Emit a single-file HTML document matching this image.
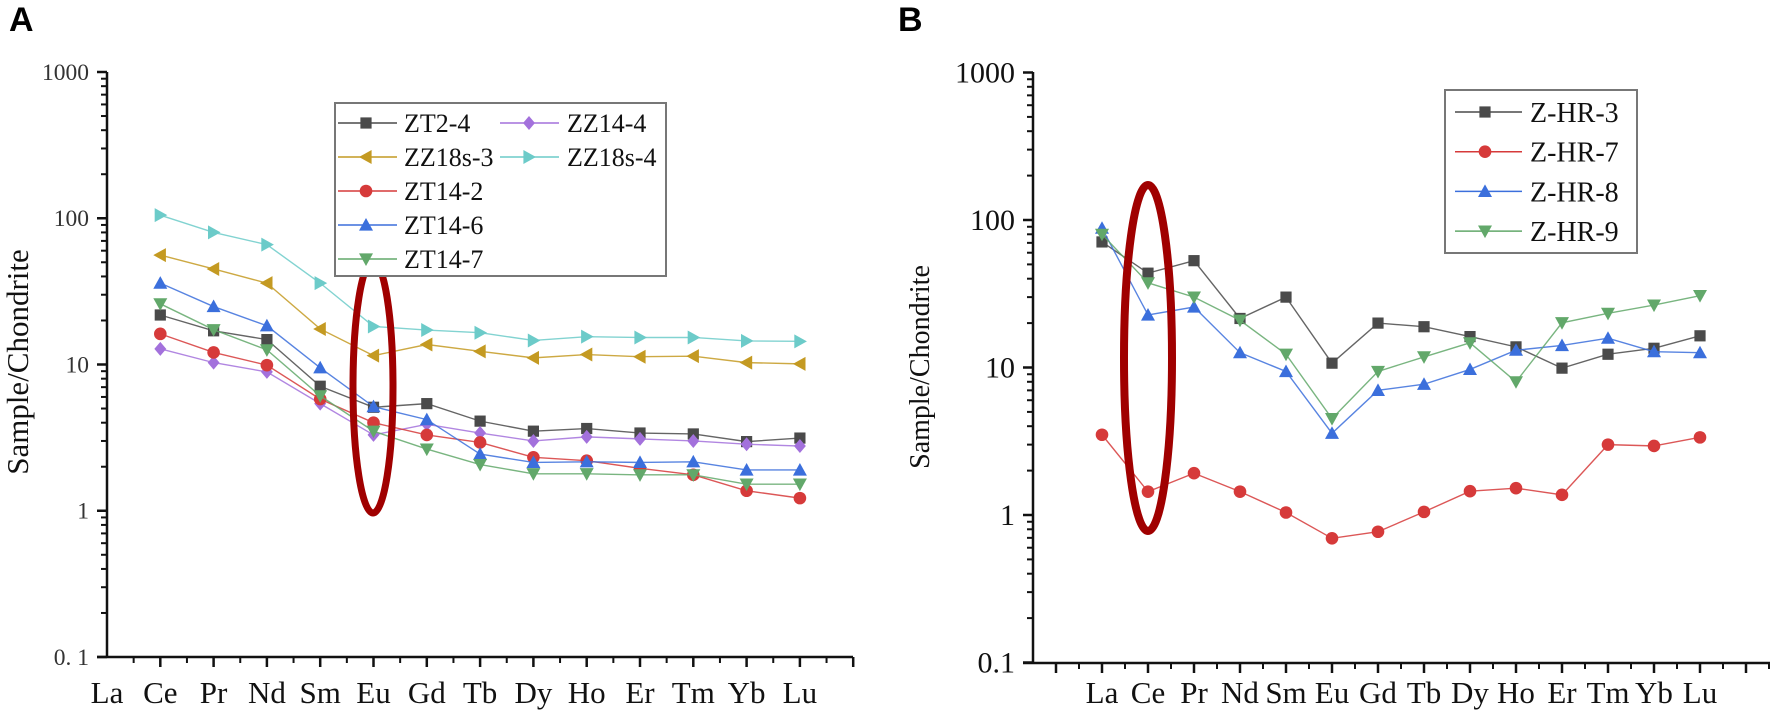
<!DOCTYPE html>
<html><head><meta charset="utf-8"><style>
html,body{margin:0;padding:0;background:#fff;}
svg{display:block;}
text{font-family:"Liberation Serif",serif;}
</style></head><body>
<svg id="s" width="1772" height="716" xmlns="http://www.w3.org/2000/svg"></svg>
<script>
const S=document.getElementById('s');let h='';
const el=['La','Ce','Pr','Nd','Sm','Eu','Gd','Tb','Dy','Ho','Er','Tm','Yb','Lu'];
function marker(t,x,y,c,r){
 if(t=='sq')return `<rect x="${x-r*0.8}" y="${y-r*0.8}" width="${r*1.6}" height="${r*1.6}" fill="${c}"/>`;
 if(t=='ci')return `<circle cx="${x}" cy="${y}" r="${r*0.9}" fill="${c}"/>`;
 if(t=='up')return `<polygon points="${x},${y-r} ${x-r},${y+r*0.8} ${x+r},${y+r*0.8}" fill="${c}"/>`;
 if(t=='dn')return `<polygon points="${x},${y+r} ${x-r},${y-r*0.8} ${x+r},${y-r*0.8}" fill="${c}"/>`;
 if(t=='lt')return `<polygon points="${x-r},${y} ${x+r*0.8},${y-r} ${x+r*0.8},${y+r}" fill="${c}"/>`;
 if(t=='rt')return `<polygon points="${x+r},${y} ${x-r*0.8},${y-r} ${x-r*0.8},${y+r}" fill="${c}"/>`;
 if(t=='di')return `<polygon points="${x},${y-r} ${x+r*0.85},${y} ${x},${y+r} ${x-r*0.85},${y}" fill="${c}"/>`;
}
function series(P,list,x0){
 const yv=v=>P.y1-Math.log10(v)*P.dec;
 for(const q of list){const pts=q.v.map((v,i)=>[x0+i*P.dx,yv(v)]);
  h+=`<polyline points="${pts.map(p=>p.join(',')).join(' ')}" fill="none" stroke="${q.c}" stroke-width="1.4" opacity="0.85"/>`;
  for(const p of pts)h+=marker(q.m,p[0],p[1],q.c,P.mr);}
}
function axes(P){
 const yv=v=>P.y1-(Math.log10(v))*P.dec;
 h+=`<line x1="${P.ax}" y1="${P.top}" x2="${P.ax}" y2="${P.y0}" stroke="#111" stroke-width="2.5"/>`;
 h+=`<line x1="${P.ax-10}" y1="${P.y0}" x2="${P.xend}" y2="${P.y0}" stroke="#111" stroke-width="2.5"/>`;
 for(let d=-1;d<=3;d++){
  const y=yv(Math.pow(10,d));
  h+=`<line x1="${P.ax-10}" y1="${y}" x2="${P.ax}" y2="${y}" stroke="#111" stroke-width="2.5"/>`;
  const lab=d==-1?P.l01:String(Math.pow(10,d));
  h+=`<text x="${P.ax-18}" y="${y+P.tf*0.33}" font-size="${P.tf}" text-anchor="end" fill="${P.tc}">${lab}</text>`;
  if(d<3)for(let m=2;m<=9;m++){const ym=yv(m*Math.pow(10,d));h+=`<line x1="${P.ax-6}" y1="${ym}" x2="${P.ax}" y2="${ym}" stroke="#111" stroke-width="2"/>`;}
 }
 for(let i=P.i0;i<=14;i++){
  const x=P.x0+i*P.dx;
  if(x>P.ax+1)h+=`<line x1="${x}" y1="${P.y0}" x2="${x}" y2="${P.y0+10}" stroke="#111" stroke-width="2.5"/>`;
  const xm=x+P.dx/2; if(xm<P.xend)h+=`<line x1="${xm}" y1="${P.y0}" x2="${xm}" y2="${P.y0+6}" stroke="#111" stroke-width="2"/>`;
  if(i>=0&&i<14)h+=`<text x="${x}" y="703" font-size="31" text-anchor="middle" fill="#111">${el[i]}</text>`;
 }
 h+=`<text transform="translate(${P.ylx},${P.yly}) rotate(-90)" font-size="${P.yf}" text-anchor="middle" fill="#111">Sample/Chondrite</text>`;
}
const A={ax:107,top:72,y0:657,xend:853,y1:510.75,dec:146.25,x0:107,dx:53.3,i0:0,tf:23.5,tc:'#333',l01:'0. 1',ylx:28,yly:362,yf:31,mr:7};
const As=[
{c:'#6ccbc9',m:'rt',v:[105,80,66,36,18.2,17.2,16.5,14.6,15.5,15.3,15.3,14.5,14.4]},
{c:'#c49a22',m:'lt',v:[56,45,36,17.5,11.5,13.7,12.3,11.1,11.7,11.3,11.4,10.3,10.1]},
{c:'#4a4a4a',m:'sq',v:[21.8,17,14.8,7.1,5.1,5.4,4.1,3.5,3.65,3.4,3.35,2.97,3.14]},
{c:'#a371dc',m:'di',v:[12.8,10.3,8.9,5.4,3.3,3.9,3.4,3.0,3.2,3.1,3.0,2.85,2.77]},
{c:'#d63a3a',m:'ci',v:[16.2,12.1,9.9,5.8,4.0,3.3,2.93,2.32,2.2,1.95,1.76,1.37,1.22]},
{c:'#3b6fdc',m:'up',v:[36,24.9,18.4,9.5,5.15,4.2,2.44,2.14,2.16,2.14,2.16,1.9,1.9]},
{c:'#62a86a',m:'dn',v:[26,17.3,12.6,6.1,3.5,2.64,2.07,1.79,1.79,1.76,1.76,1.52,1.52]}
];
axes(A);series(A,As,107+53.3);
const B={ax:1033,top:72,y0:663,xend:1770,y1:515,dec:147.5,x0:1102,dx:46,i0:-1,tf:30,tc:'#111',l01:'0.1',ylx:929,yly:367,yf:28,mr:7};
const Bs=[
{c:'#4a4a4a',m:'sq',v:[71,43.6,53,21.5,30,10.7,20,18.9,16.2,13.8,9.9,12.3,13.5,16.4]},
{c:'#d63a3a',m:'ci',v:[3.5,1.44,1.92,1.44,1.04,0.695,0.77,1.05,1.45,1.52,1.37,3.0,2.94,3.36]},
{c:'#3b6fdc',m:'up',v:[88,22.7,25.7,12.6,9.4,3.58,7.0,7.7,9.7,13.1,14.1,15.8,12.8,12.6]},
{c:'#62a86a',m:'dn',v:[80,37.5,30,20.9,12.3,4.5,9.4,11.8,14.7,8.0,20.1,23.3,26.5,30.7]}
];
axes(B);series(B,Bs,1102);
// ellipses
h+=`<ellipse cx="373" cy="387" rx="20" ry="126" fill="none" stroke="#a00000" stroke-width="7"/>`;
h+=`<ellipse cx="1148" cy="358" rx="24" ry="173" fill="none" stroke="#a00000" stroke-width="8"/>`;
// legend A
h+=`<rect x="335" y="103" width="331" height="173" fill="#fff" stroke="#777" stroke-width="2"/>`;
const LA=[[0,0,'ZT2-4','#4a4a4a','sq'],[1,0,'ZZ14-4','#a371dc','di'],[0,1,'ZZ18s-3','#c49a22','lt'],[1,1,'ZZ18s-4','#6ccbc9','rt'],[0,2,'ZT14-2','#d63a3a','ci'],[0,3,'ZT14-6','#3b6fdc','up'],[0,4,'ZT14-7','#62a86a','dn']];
for(const [c,r,t,col,m] of LA){const y=123+r*34;const lx=c?500:338;const mx=c?529:366;const tx=c?567:404;
 h+=`<line x1="${lx}" y1="${y}" x2="${lx+59}" y2="${y}" stroke="${col}" stroke-width="1.5"/>`+marker(m,mx,y,col,7);
 h+=`<text x="${tx}" y="${y+9}" font-size="26" fill="#111">${t}</text>`;}
// legend B
h+=`<rect x="1445" y="90" width="192" height="163" fill="#fff" stroke="#777" stroke-width="2"/>`;
const LB=[['Z-HR-3','#4a4a4a','sq'],['Z-HR-7','#d63a3a','ci'],['Z-HR-8','#3b6fdc','up'],['Z-HR-9','#62a86a','dn']];
LB.forEach(([t,col,m],r)=>{const y=112+r*39.7;
 h+=`<line x1="1455" y1="${y}" x2="1522" y2="${y}" stroke="${col}" stroke-width="1.5"/>`+marker(m,1485,y,col,7);
 h+=`<text x="1530" y="${y+10}" font-size="28" fill="#111">${t}</text>`;});
h+=`<text x="9" y="31" font-size="34" font-weight="bold" style="font-family:'Liberation Sans',sans-serif">A</text>`;
h+=`<text x="898" y="31" font-size="34" font-weight="bold" style="font-family:'Liberation Sans',sans-serif">B</text>`;
S.innerHTML=h;
</script>
</body></html>
